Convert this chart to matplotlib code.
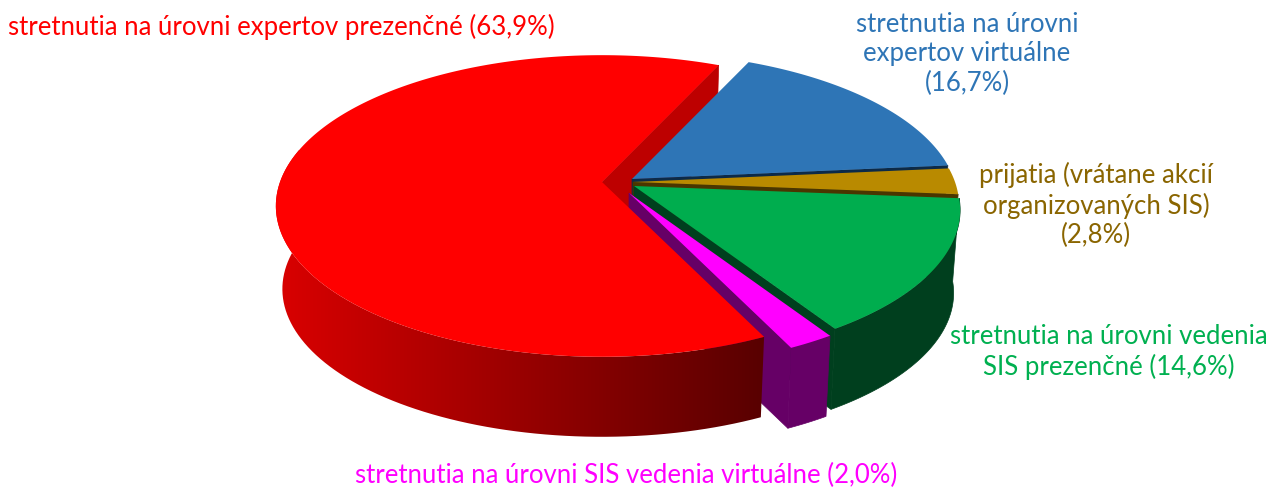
import numpy as np
import matplotlib
matplotlib.use("Agg")
import matplotlib.pyplot as plt
from matplotlib.patches import Polygon

plt.rcParams['font.family'] = ['Lato', 'DejaVu Sans']

# Data, clockwise from the back of the pie
labels = ["stretnutia na úrovni\nexpertov virtuálne\n(16,7%)",
          "prijatia (vrátane akcií\norganizovaných SIS)\n(2,8%)",
          "stretnutia na úrovni vedenia\nSIS prezenčné (14,6%)",
          "stretnutia na úrovni SIS vedenia virtuálne (2,0%)",
          "stretnutia na úrovni expertov prezenčné (63,9%)"]
values = [16.7, 2.8, 14.6, 2.0, 63.9]

# Slice styles
top_colors = ["#2e75b6", "#b98a00", "#00ad4e", "#ff00ff", "#ff0000"]
text_colors = ["#2e75b6", "#8a6500", "#00b050", "#ff00ff", "#ff0000"]
wall_colors = ["#0c2a48", "#4a3600", "#003f1e", "#660066", "#bd0000"]
apex_x = [632, 633, 634, 629, 602]
apex_y = [179, 182, 186, 193, 182]
label_x = [967, 1096, 1109, 626, 281]
label_y = [54, 205, 352, 475, 27]

# Projection of the tilted disc
START = 24.5
RX, RY = 322.0, 147.0
PERSP = 0.159
DEPTH = 83.5
SHRINK = 0.98
RED_SIDE_END = 340.0  # rest of the red rim faces away


def project(ang, ax0, ay0, bottom=False):
    a = np.radians(ang)
    u, v = np.sin(a), np.cos(a)
    s = 1 / (1 + PERSP * v)
    x = RX * u * s
    y = -RY * v * s
    if bottom:
        return ax0 + SHRINK * x, ay0 + DEPTH + SHRINK * y
    return ax0 + x, ay0 + y


def shade(x):
    # red side goes dark from left to right
    f = np.clip((x - 280) / (760 - 280), 0, 1)
    return 0.85 - 0.50 * f


fig = plt.figure(figsize=(12.71, 4.88), dpi=100)
ax = fig.add_axes([0, 0, 1, 1])

edges = START + np.concatenate(([0], np.cumsum(values))) * 3.6


def wall(i, ang, z):
    x0, y0 = apex_x[i], apex_y[i]
    ex, ey = project(ang, x0, y0)
    bx, by = project(ang, x0, y0, bottom=True)
    ax.add_patch(Polygon([(x0, y0), (ex, ey), (bx, by), (x0, y0 + DEPTH)],
                         fc=wall_colors[i], ec=wall_colors[i], lw=0.5, zorder=z))


def side_poly(i, a0, a1):
    x0, y0 = apex_x[i], apex_y[i]
    angs = np.linspace(a0, a1, 120)
    upper = [project(a, x0, y0) for a in angs]
    lower = [project(a, x0, y0, True) for a in angs[::-1]]
    return upper + lower


def top(i, z):
    x0, y0 = apex_x[i], apex_y[i]
    angs = np.linspace(edges[i], edges[i + 1], 200)
    pts = [(x0, y0)] + [project(a, x0, y0) for a in angs]
    ax.add_patch(Polygon(pts, fc=top_colors[i], ec="none", zorder=z))


# red end wall sits behind the blue slice
wall(4, edges[5], 1)

z = 2
for i in range(4):
    if i >= 2:
        ax.add_patch(Polygon(side_poly(i, edges[i], edges[i + 1]),
                             fc=wall_colors[i], ec=wall_colors[i], lw=0.5, zorder=z))
    wall(i, edges[i + 1], z + 1)
    top(i, z + 2)
    z += 3

# red rim as one clipped gradient
xs = np.linspace(260, 790, 530)
grad = np.zeros((1, xs.size, 3))
grad[0, :, 0] = shade(xs)
rim = Polygon(side_poly(4, edges[4], RED_SIDE_END), fc="none", ec="none",
              transform=ax.transData)
ax.add_patch(rim)
im = ax.imshow(grad, extent=(260, 790, 460, 150), aspect="auto", zorder=z,
               interpolation="bilinear")
im.set_clip_path(rim)
top(4, z + 1)

for i in range(5):
    ax.text(label_x[i], label_y[i], labels[i], color=text_colors[i], fontsize=18.5,
            ha="center", va="center", linespacing=1.22, zorder=50)

ax.set_xlim(0, 1271)
ax.set_ylim(488, 0)
ax.axis("off")

fig.savefig("out.png", dpi=100)
